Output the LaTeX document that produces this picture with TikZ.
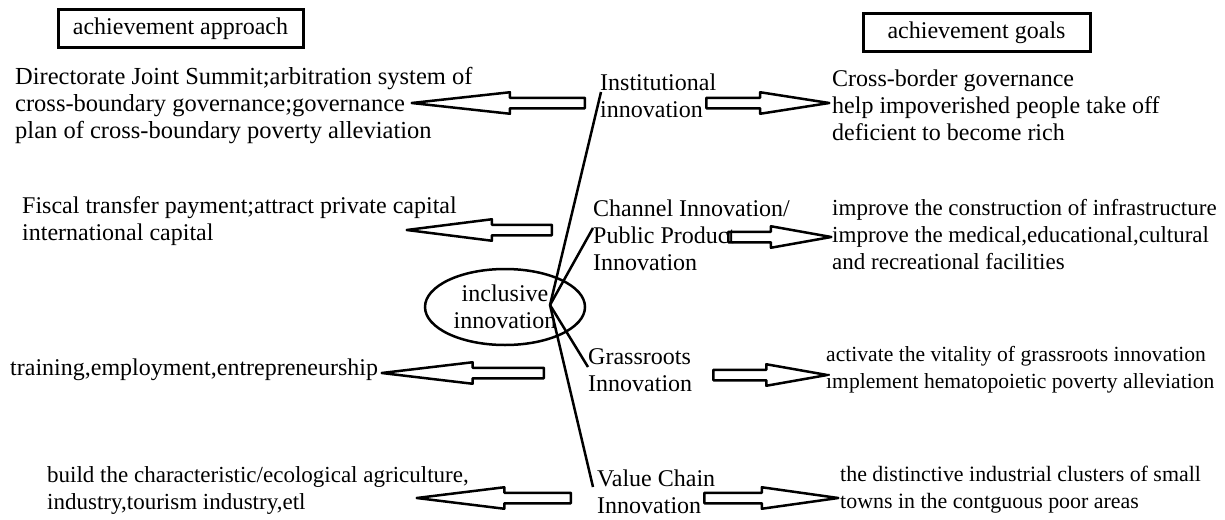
\documentclass[tikz,border=0pt]{standalone}
\usepackage{fontspec}
\setmainfont{Liberation Serif}
\usetikzlibrary{shapes.geometric,shapes.arrows}
\tikzset{
  txt/.style={anchor=west, align=left, inner sep=0pt, font=\fontsize{#1}{27}\selectfont},
  txt/.default=24,
  hdr/.style={draw, line width=3pt, inner sep=0pt, font=\fontsize{24}{27}\selectfont},
  fat/.style 2 args={single arrow, draw, line width=2.5pt, line join=round, inner sep=4pt,
    single arrow head extend=5.5pt, single arrow tip angle=#2, minimum height=#1, anchor=tail},
  left/.style={shape border rotate=180},
}
\begin{document}
\begin{tikzpicture}[x=1pt, y=-1pt]
\useasboundingbox (0,0) rectangle (1225,519);
% headers
\node [hdr, minimum width=245, minimum height=38] (approach) at (180.5,29) {achievement approach};
\node [hdr, minimum width=227, minimum height=38] (goals) at (976.5,33) {achievement goals};
% left column
\node [txt=24.5] (app1) at (15,106) {Directorate Joint Summit;arbitration system of\\cross-boundary governance;governance\\plan of cross-boundary poverty alleviation};
\node [txt] (app2) at (22,221) {Fiscal transfer payment;attract private capital\\international capital};
\node [txt] (app3) at (10,370) {training,employment,entrepreneurship};
\node [txt=23] (app4) at (47,490) {build the characteristic/ecological agriculture,\\industry,tourism industry,etl};
% middle column
\node [txt] (inst) at (600,96) {Institutional\\innovation};
\node [txt] (chan) at (593,235) {Channel Innovation/\\Public Product\\Innovation};
\node [txt] (grass) at (588,370) {Grassroots\\Innovation};
\node [txt] (value) at (597,492) {Value Chain\\Innovation};
% right column
\node [txt] (goal1) at (832,105) {Cross-border governance\\help impoverished people take off\\deficient to become rich};
\node [txt=23] (goal2) at (832,235) {improve the construction of infrastructure\\improve the medical,educational,cultural\\and recreational facilities};
\node [txt=21.6] (goal3) at (826,370) {activate the vitality of grassroots innovation\\implement hematopoietic poverty alleviation};
\node [txt=21.9] (goal4) at (840,490) {the distinctive industrial clusters of small\\towns in the contguous poor areas};
% centre
\node [ellipse, draw, line width=2.5pt, minimum width=160, minimum height=76, inner sep=0pt, align=center,
  font=\fontsize{24}{27}\selectfont] (incl) at (505,307) {inclusive\\innovation};
\coordinate (hub) at (550,305);
\draw [line width=2.5pt] (hub) -- ([xshift=1pt,yshift=4pt]inst.west);
\draw [line width=2.5pt] (hub) -- ([yshift=7pt]chan.west);
\draw [line width=2.5pt] (hub) -- ([yshift=3pt]grass.west);
\draw [line width=2.5pt] (hub) -- ([xshift=-4pt,yshift=5pt]value.west);
% hollow arrows
\node [fat={173}{12.5}, left] (a1l) at (586,103) {};
\node [fat={123}{17.7}] (a1r) at (705,103) {};
\node [fat={145}{14.4}, left] (a2l) at (553,230) {};
\node [fat={103}{20.2}] (a2r) at (727,237) {};
\node [fat={162}{13.5}, left] (a3l) at (545,373) {};
\node [fat={114}{20}] (a3r) at (712,375) {};
\node [fat={154}{14}, left] (a4l) at (572,498) {};
\node [fat={134}{16}] (a4r) at (703,498) {};
\end{tikzpicture}
\end{document}
